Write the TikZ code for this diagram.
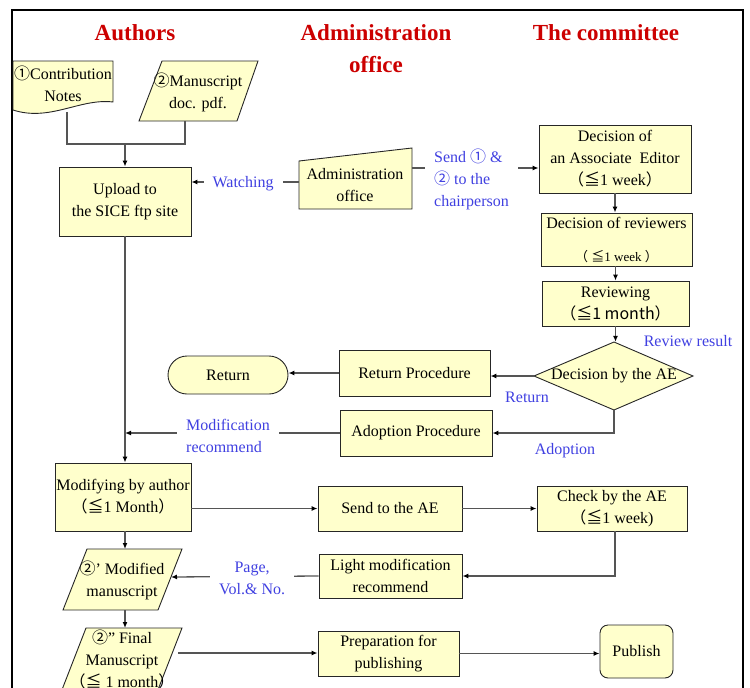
\documentclass[tikz,border=0pt]{standalone}
\usepackage{fontspec}
\setmainfont{Liberation Serif}
\newfontfamily\cjkf{Noto Sans CJK JP}
\usetikzlibrary{arrows.meta}

\definecolor{boxfill}{RGB}{255,255,204}
\definecolor{titlered}{RGB}{204,0,0}
\definecolor{labblue}{RGB}{64,64,225}
\definecolor{linegray}{RGB}{85,85,85}

\newcommand\cOne{{\cjkf ①}}
\newcommand\cTwo{{\cjkf ②}}
\newcommand\myle{{\cjkf ≦}}
\newcommand\lpar{{\cjkf （}}
\newcommand\rpar{{\cjkf ）}}
\newcommand\boxtxt{\fontsize{16}{22}\selectfont}

\begin{document}
\begin{tikzpicture}[x=1pt,y=-1pt,
  title/.style={text=titlered, font=\fontsize{23}{32}\selectfont\bfseries, align=center, inner sep=0},
  box/.style={draw=black!85, fill=boxfill, line width=0.9pt, align=center, inner sep=0pt, font=\boxtxt},
  shapefill/.style={draw=black!85, fill=boxfill, line width=0.9pt},
  txt/.style={align=center, inner sep=0pt, font=\boxtxt},
  lab/.style={text=labblue, font=\boxtxt, fill=white, align=left, inner xsep=9pt, inner ysep=2pt},
  labplain/.style={text=labblue, font=\boxtxt, inner sep=0pt},
  conn/.style={draw=linegray, line width=1.3pt},
  arr/.style={conn, -{Latex[length=6pt,width=5pt,color=black]}}
]
\useasboundingbox (0,0) rectangle (750,688);
\clip (0,0) rectangle (750,688);

% outer frame
\draw[line width=2.4pt] (12,720) -- (12,10) -- (743,10) -- (743,720);

% column headings
\node[title] (tA) at (135,33) {Authors};
\node[title] (tB) at (376,49) {Administration\\office};
\node[title] (tC) at (606,33) {The committee};

% contribution notes (document shape)
\filldraw[shapefill] (13,61) -- (113,61) -- (113,102)
  .. controls (80,98) and (50,122) .. (13,110) -- cycle;
\node[txt] (cn) at (63,84) {\cOne Contribution\\Notes};
\coordinate (cnb) at (67,112);

% manuscript (data shape)
\filldraw[shapefill] (162,61) -- (258,61) -- (237,121) -- (139,121) -- cycle;
\node[txt] (ms) at (198,92) {\cTwo Manuscript\\doc. pdf.};
\coordinate (msb) at (185,121);

% upload
\node[box, minimum width=132, minimum height=69] (up) at (125,201.5) {Upload to\\the SICE ftp site};
\coordinate (join) at (125,144);
\draw[conn] (cnb) |- (join) -| (msb);
\draw[arr] (join) -- (up.north);

% administration office (manual input shape)
\filldraw[shapefill] (299,161) -- (412,148) -- (412,209) -- (299,209) -- cycle;
\node[txt] (adm) at (355,185) {Administration\\office};
\coordinate (admW) at (299,182);
\coordinate (admE) at (412,168);
\draw[arr] (admW) -- node[lab, pos=0.52, yshift=-2pt] {Watching} (up.east |- admW);

% committee column
\node[box, minimum width=152, minimum height=68] (ae) at (615,159)
  {Decision of\\an Associate\ \ Editor\\\lpar\myle 1 week\rpar};
\draw[arr] (admE) -- node[lab, pos=0.47, yshift=-11pt] {Send \cOne\ \&\\\cTwo\ to the\\chairperson} (ae.west |- admE);

\node[box, minimum width=151, minimum height=53] (rv) at (616.5,239.5)
  {Decision of reviewers\\[11pt]{\fontsize{13}{13}\selectfont\lpar\ \myle 1 week\ \rpar}};
\draw[arr] (ae.south) -- (ae.south |- rv.north);

\node[box, minimum width=147, minimum height=45] (rw) at (615.5,303.5)
  {Reviewing\\{\cjkf （≦1 month）}};
\draw[arr] (rv.south -| rw.south) -- (rw.north);

% decision diamond
\filldraw[shapefill] (534,376) -- (614,342) -- (693,376) -- (614,410) -- cycle;
\node[txt, minimum width=159, minimum height=68] (dec) at (614,376) {Decision by the AE};
\draw[arr] (rw.south) -- (rw.south |- dec.north);
\node[labplain] (rr) at (688,341) {Review result};

% return branch
\node[box, minimum width=151, minimum height=46] (rp) at (414.5,373) {Return Procedure};
\draw[arr] (dec.west) -- (rp.east |- dec.west);
\node[labplain] (rl) at (527,397) {Return};
\node[box, rounded corners=19, minimum width=120, minimum height=38] (ret) at (228,375) {Return};
\draw[arr] (rp.west) -- (rp.west -| ret.east);

% adoption branch
\node[box, minimum width=152, minimum height=46] (ap) at (416,433) {Adoption Procedure};
\draw[arr] (dec.south) |- (ap.east);
\node[labplain] (al) at (565,451) {Adoption};
\draw[arr] (ap.west) -- node[lab, pos=0.52, yshift=-3pt] {Modification\\recommend} (up.south |- ap.west);

% modification by the author
\node[box, minimum width=136, minimum height=68] (md) at (123,497)
  {Modifying by author\\\lpar\myle 1 Month\rpar};
\draw[arr] (up.south) -- (up.south |- md.north);

\node[box, minimum width=144, minimum height=45] (sa) at (390,508.5) {Send to the AE};
\draw[arr] (md.east |- sa.west) -- (sa.west);

\node[box, minimum width=150, minimum height=45] (ck) at (612,508.5)
  {Check by the AE\\\lpar\myle 1 week)};
\draw[arr] (sa.east) -- (ck.west);

\node[box, minimum width=143, minimum height=44] (lm) at (390.5,576) {Light modification\\recommend};
\draw[arr] ([xshift=3pt]ck.south) |- (lm.east);

% modified manuscript
\filldraw[shapefill] (87,549) -- (182,549) -- (158,610) -- (63,610) -- cycle;
\node[txt] (mm) at (122,580) {\cTwo’ Modified\\manuscript};
\coordinate (mmN) at (125,549);
\coordinate (mmS) at (125,610);
\coordinate (mmE) at (171,577);
\draw[arr] (up.south |- md.south) -- (mmN);
\draw[arr] (lm.west) -- node[lab, align=center, pos=0.45, yshift=-2pt] {Page,\\Vol.\& No.} (mmE);

% final manuscript
\filldraw[shapefill] (86,628) -- (182,628) -- (154,700) -- (58,700) -- cycle;
\node[txt] (fm) at (122,659) {\cTwo” Final\\Manuscript\\\lpar\myle\ 1 month\rpar};
\coordinate (fmN) at (125,628);
\coordinate (fmE) at (178,653);
\draw[arr] (mmS) -- (fmN);

\node[box, minimum width=141, minimum height=45] (pp) at (388.5,653.5) {Preparation for\\publishing};
\draw[arr] (fmE) -- (pp.west |- fmE);

\node[box, rounded corners=8, minimum width=73, minimum height=53] (pb) at (636.5,651.5) {Publish};
\draw[arr] (pp.east) -- (pb.west |- pp.east);
\end{tikzpicture}
\end{document}
